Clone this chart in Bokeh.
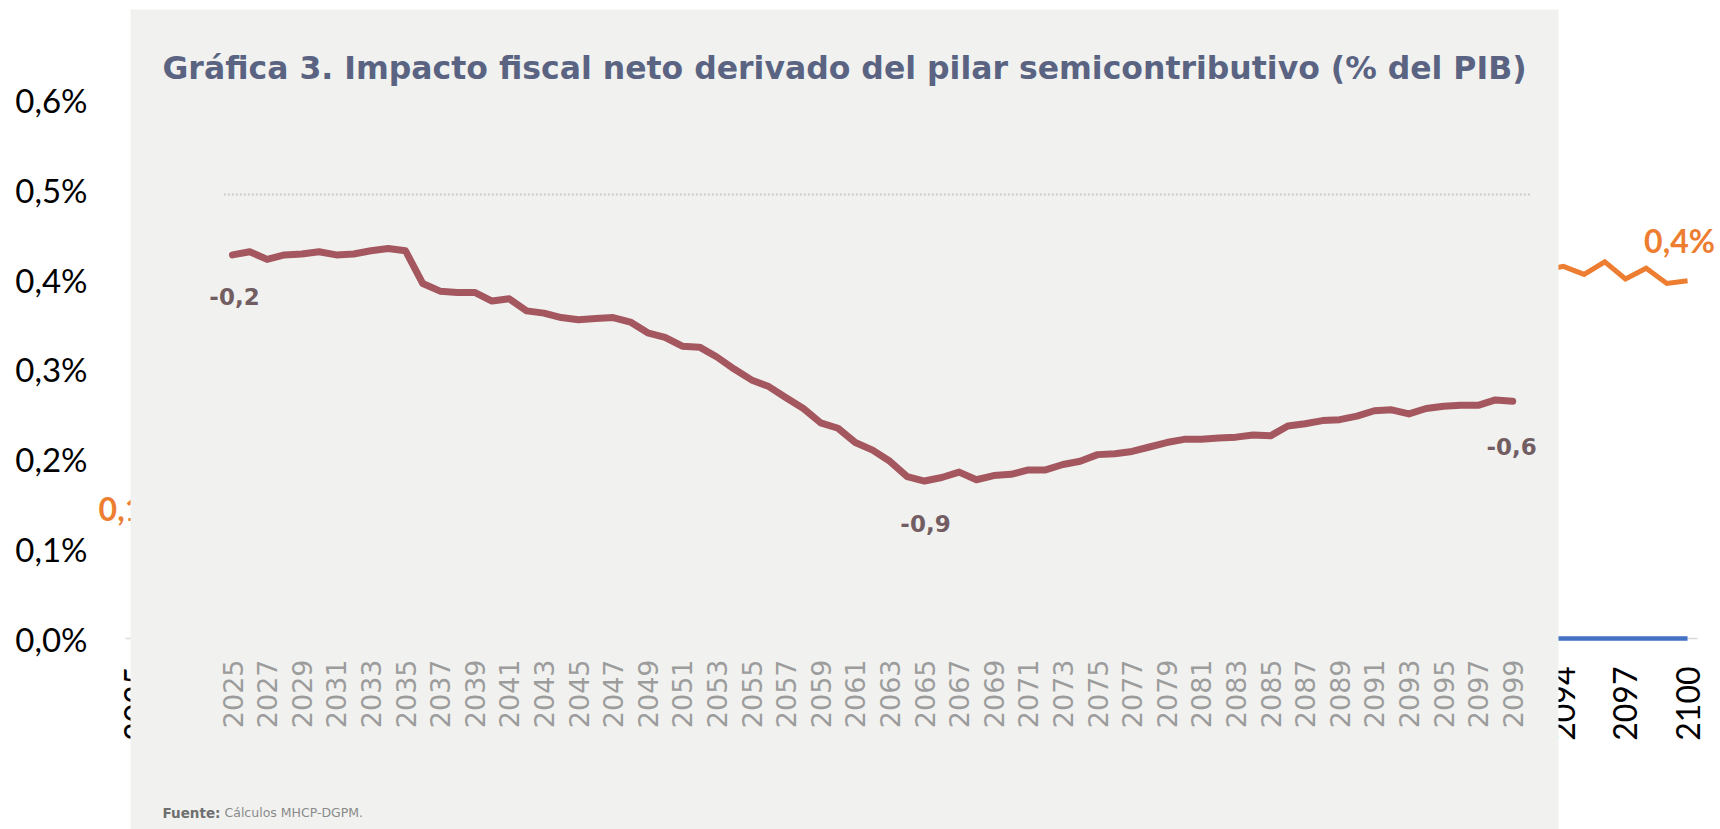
import math
from bokeh.plotting import figure
from bokeh.models import Range1d, LinearAxis, FixedTicker, CustomJSTickFormatter, ColumnDataSource
from bokeh.core.properties import value
from bokeh.embed import file_html
from bokeh.resources import INLINE

# ---------------- background chart data (% del PIB) ----------------
years = list(range(2025, 2101))
blue_values = [0.0] * len(years)
orange_years = [2025, 2094, 2095, 2096, 2097, 2098, 2099, 2100]
orange_values = [0.100, 0.415, 0.406, 0.420, 0.401, 0.413, 0.396, 0.399]
orange_label_years = [2025, 2100]
orange_label_texts = ["0,1%", "0,4%"]
y_ticks = [0.0, 0.1, 0.2, 0.3, 0.4, 0.5, 0.6]
x_ticks = list(range(2025, 2101, 3))

# ---------------- photographed chart data ----------------
photo_title = "Gráfica 3. Impacto fiscal neto derivado del pilar semicontributivo (% del PIB)"
photo_source_bold = "Fuente:"
photo_source_text = "Cálculos MHCP-DGPM."
photo_years = list(range(2025, 2100))
photo_values = [
    -0.190, -0.180, -0.204, -0.190, -0.187, -0.180, -0.190, -0.187, -0.177, -0.170,
    -0.177, -0.280, -0.304, -0.308, -0.308, -0.335, -0.328, -0.366, -0.373, -0.387,
    -0.394, -0.390, -0.387, -0.401, -0.435, -0.449, -0.477, -0.480, -0.511, -0.549,
    -0.583, -0.604, -0.639, -0.673, -0.718, -0.735, -0.780, -0.804, -0.839, -0.887,
    -0.901, -0.890, -0.873, -0.897, -0.884, -0.880, -0.866, -0.866, -0.849, -0.839,
    -0.818, -0.815, -0.808, -0.794, -0.780, -0.770, -0.770, -0.766, -0.763, -0.756,
    -0.759, -0.728, -0.721, -0.711, -0.708, -0.697, -0.680, -0.677, -0.690, -0.673,
    -0.666, -0.663, -0.663, -0.646, -0.650,
]
photo_ticks = list(range(2025, 2100, 2))
photo_label_years = [2025, 2065, 2099]
photo_label_texts = ["-0,2", "-0,9", "-0,6"]

# ---------------- layout constants ----------------
W, H = 1720, 829
BG_X0, BG_PX = 135.5, 20.687      # pixel of 2025, pixels per year
BG_Y0, BG_PY = 638.0, 896.7       # pixel of 0 %, pixels per 1 %
PH_X0, PH_PX = 232.0, 17.30       # photo: pixel of 2025, pixels per year
PH_Y0, PH_PY = 194.0, 318.0       # photo: pixel of 0, pixels per 1 unit

p = figure(
    width=W, height=H,
    x_range=Range1d(2025 - BG_X0 / BG_PX, 2025 + (W - BG_X0) / BG_PX),
    y_range=Range1d(-(H - BG_Y0) / BG_PY, BG_Y0 / BG_PY),
    output_backend="svg", toolbar_location=None,
    x_axis_location=None, y_axis_location=None,
    min_border=0, outline_line_color=None,
    background_fill_color="white", border_fill_color="white",
)
p.grid.visible = False

p.extra_x_ranges = {
    "sx": Range1d(0, W),
    "px": Range1d(2025 - PH_X0 / PH_PX, 2025 + (W - PH_X0) / PH_PX),
}
p.extra_y_ranges = {
    "sy": Range1d(H, 0),
    "py": Range1d(-(H - PH_Y0) / PH_PY, PH_Y0 / PH_PY),
}

# ---------------- background chart ----------------
yaxis = LinearAxis(
    fixed_location=2025 + (97 - BG_X0) / BG_PX,
    ticker=FixedTicker(ticks=y_ticks),
    formatter=CustomJSTickFormatter(code="return tick.toFixed(1).replace('.', ',') + '%';"),
)
yaxis.axis_line_color = None
yaxis.major_tick_line_color = None
yaxis.minor_tick_line_color = None
yaxis.major_label_standoff = 4
yaxis.major_label_text_font = "Lato"
yaxis.major_label_text_font_size = "33px"
yaxis.major_label_text_color = "#000000"
yaxis.level = "underlay"
p.add_layout(yaxis, "left")

xaxis = LinearAxis(
    fixed_location=0,
    bounds=(2024.5, 2100.5),
    ticker=FixedTicker(ticks=x_ticks),
    formatter=CustomJSTickFormatter(code="return tick.toFixed(0);"),
    major_label_orientation=math.pi / 2,
)
xaxis.axis_line_color = "#d9d9d9"
xaxis.axis_line_width = 1.5
xaxis.major_tick_line_color = None
xaxis.minor_tick_line_color = None
xaxis.major_label_standoff = 22
xaxis.major_label_text_font = "Lato"
xaxis.major_label_text_font_size = "32px"
xaxis.major_label_text_color = "#000000"
xaxis.level = "underlay"
p.add_layout(xaxis, "below")

p.line(years, blue_values, line_color="#4472c4", line_width=4.5)
p.line(orange_years, orange_values, line_color="#ed7d31", line_width=5, line_join="miter")

olab = ColumnDataSource(dict(
    x=orange_label_years,
    y=[orange_values[orange_years.index(yr)] for yr in orange_label_years],
    t=orange_label_texts,
    dx=[-2, -8],
))
p.text(x="x", y="y", text="t", source=olab, x_offset="dx", y_offset=-40,
       text_align="center", text_baseline="middle",
       text_font=value("Lato"), text_font_style="bold", text_font_size="32px",
       text_color="#ed7d31")

# ---------------- photographed chart ----------------
photo = p.quad(left=[130], right=[1558], top=[9], bottom=[H],
               x_range_name="sx", y_range_name="sy",
               fill_color="#f1f2f0", line_color=None)
photo.level = "annotation"

r = p.text(x=[162], y=[67], text=[photo_title], x_range_name="sx", y_range_name="sy",
           text_align="left", text_baseline="middle",
           text_font=value("DejaVu Sans"), text_font_style="bold", text_font_size="31.5px",
           text_color="#5a6482")
r.level = "overlay"

r = p.line(x=[2024.5, 2100.0], y=[0, 0], x_range_name="px", y_range_name="py",
           line_color="#c9cbc9", line_width=2, line_dash="2 2")
r.level = "overlay"

r = p.line(photo_years, photo_values, x_range_name="px", y_range_name="py",
           line_color="#a5575f", line_width=7, line_cap="round", line_join="round")
r.level = "overlay"

plab = ColumnDataSource(dict(
    x=photo_label_years,
    y=[photo_values[photo_years.index(yr)] for yr in photo_label_years],
    t=photo_label_texts,
    dx=[2, 1, -1],
    dy=[42, 42, 45],
))
r = p.text(x="x", y="y", text="t", source=plab, x_offset="dx", y_offset="dy",
           x_range_name="px", y_range_name="py",
           text_align="center", text_baseline="middle",
           text_font=value("DejaVu Sans"), text_font_style="bold", text_font_size="23px",
           text_color="#725e62")
r.level = "overlay"

paxis = LinearAxis(
    x_range_name="px", y_range_name="py",
    fixed_location=-(653 - PH_Y0) / PH_PY,
    ticker=FixedTicker(ticks=photo_ticks),
    formatter=CustomJSTickFormatter(code="return tick.toFixed(0);"),
    major_label_orientation=math.pi / 2,
)
paxis.axis_line_color = None
paxis.major_tick_line_color = None
paxis.minor_tick_line_color = None
paxis.major_label_standoff = 0
paxis.major_label_text_font = "DejaVu Sans"
paxis.major_label_text_font_size = "27px"
paxis.major_label_text_color = "#9c9c9c"
paxis.level = "overlay"
p.add_layout(paxis, "below")

r = p.text(x=[162], y=[812], text=[photo_source_bold], x_range_name="sx", y_range_name="sy",
           text_align="left", text_baseline="middle",
           text_font=value("DejaVu Sans"), text_font_style="bold", text_font_size="13.5px",
           text_color="#6f6f6f")
r.level = "overlay"
r = p.text(x=[224], y=[812], text=[photo_source_text], x_range_name="sx", y_range_name="sy",
           text_align="left", text_baseline="middle",
           text_font=value("DejaVu Sans"), text_font_size="12.5px",
           text_color="#8a8a8a")
r.level = "overlay"

open("out.html", "w").write(file_html(p, INLINE))
